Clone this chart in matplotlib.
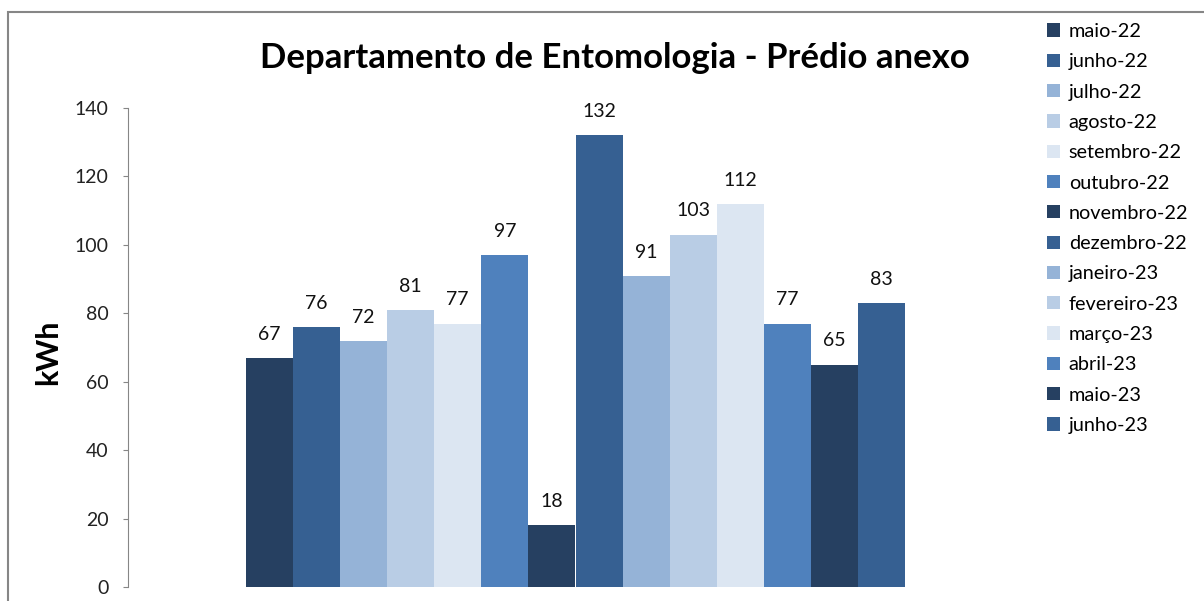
import matplotlib.pyplot as plt
from matplotlib.patches import Rectangle

# dados
meses = ['maio-22', 'junho-22', 'julho-22', 'agosto-22', 'setembro-22', 'outubro-22',
         'novembro-22', 'dezembro-22', 'janeiro-23', 'fevereiro-23', 'março-23',
         'abril-23', 'maio-23', 'junho-23']
consumo = [67, 76, 72, 81, 77, 97, 18, 132, 91, 103, 112, 77, 65, 83]
paleta = ['#264061', '#366092', '#95B3D7', '#B9CDE5', '#DCE6F2', '#4F81BD']
yticks = [0, 20, 40, 60, 80, 100, 120, 140]

plt.rcParams['font.family'] = ['Lato', 'DejaVu Sans']

fig = plt.figure(figsize=(12.04, 6.01), dpi=100)
ax = fig.add_axes([128 / 1204, 1 - 587 / 601, 895 / 1204, 479 / 601])

# moldura externa
fig.patches.append(Rectangle((8 / 1204, -0.05), 1.2, 1 - 12 / 601 + 0.05,
                             transform=fig.transFigure, fill=False,
                             edgecolor='#868686', linewidth=1.5))

barras = []
for i, (m, v) in enumerate(zip(meses, consumo)):
    b = ax.bar(i, v, width=1.0, color=paleta[i % len(paleta)], label=m)
    barras.append(b)
    ax.annotate(str(v), (i, v), xytext=(0, 17), textcoords='offset points',
                ha='center', va='center', fontsize=14, color='#111111')

ax.set_xlim(-3, 16)
ax.set_ylim(0, 140)
ax.set_yticks(yticks)
ax.set_xticks([])
for s in ['top', 'right', 'bottom']:
    ax.spines[s].set_visible(False)
ax.spines['left'].set_color('#868686')
ax.tick_params(axis='y', colors='#868686', labelcolor='#222222', labelsize=14,
               length=3.6, direction='out', pad=10.5)

fig.text(615 / 1204, 1 - 58 / 601, 'Departamento de Entomologia - Prédio anexo',
         ha='center', va='center', fontsize=25, fontweight='bold')
fig.text(48 / 1204, 1 - 352 / 601, 'kWh', rotation=90, ha='center', va='center',
         fontsize=22, fontweight='bold')

fig.legend(handles=[b[0] for b in barras], labels=meses,
           loc='upper left', bbox_to_anchor=(1047 / 1204, 1 - 23 / 601),
           frameon=False, fontsize=14.3, handlelength=0.65, handleheight=0.65,
           handletextpad=0.45, labelspacing=0.67, borderpad=0, borderaxespad=0)

fig.savefig('out.png', dpi=100)
